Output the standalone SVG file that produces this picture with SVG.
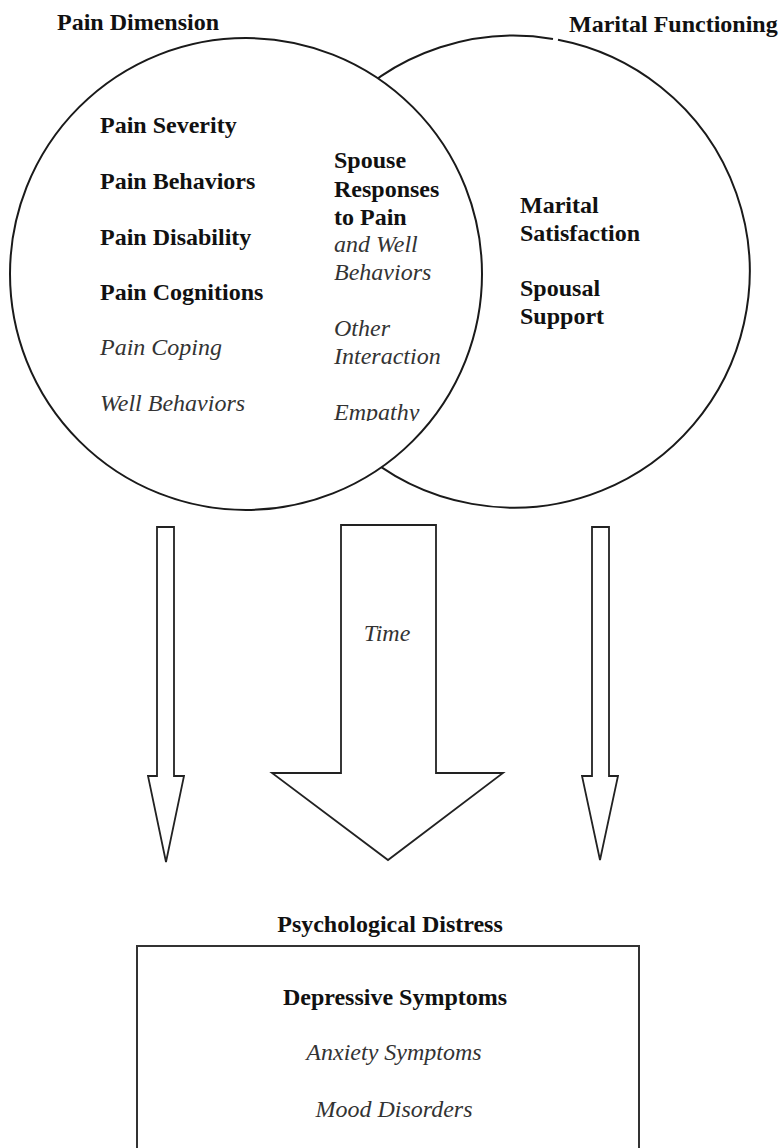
<svg xmlns="http://www.w3.org/2000/svg" width="783" height="1148" viewBox="0 0 783 1148">
<style>
.b{font-family:"Liberation Serif","Times New Roman",serif;font-size:24px;font-weight:bold;fill:#111}
.i{font-family:"Liberation Serif","Times New Roman",serif;font-size:24px;font-style:italic;fill:#333}
.c{text-anchor:middle}
.shape{fill:#fff;stroke:#1a1a1a;stroke-width:2}
.arrow{fill:#fff;stroke:#222;stroke-width:1.8;stroke-linejoin:miter}
</style>
<defs>
<clipPath id="empclip"><rect x="320" y="380" width="140" height="41"/></clipPath>
</defs>
<rect width="783" height="1148" fill="#fff"/>

<g id="marital-functioning">
<path class="shape" d="M558,39.8 A236,236 0 1,1 553,38.9"/>
<text class="b" x="569" y="32">Marital Functioning</text>
<text class="b" x="520" y="213">Marital</text>
<text class="b" x="520" y="241">Satisfaction</text>
<text class="b" x="520" y="296">Spousal</text>
<text class="b" x="520" y="324">Support</text>
</g>

<g id="pain-dimension">
<circle class="shape" cx="246" cy="274" r="236"/>
<text class="b" x="57" y="30">Pain Dimension</text>
<text class="b" x="100" y="133">Pain Severity</text>
<text class="b" x="100" y="189">Pain Behaviors</text>
<text class="b" x="100" y="245">Pain Disability</text>
<text class="b" x="100" y="300">Pain Cognitions</text>
<text class="i" x="100" y="355">Pain Coping</text>
<text class="i" x="100" y="411">Well Behaviors</text>
<text class="b" x="334" y="168">Spouse</text>
<text class="b" x="334" y="197">Responses</text>
<text class="b" x="334" y="225">to Pain</text>
<text class="i" x="334" y="252">and Well</text>
<text class="i" x="334" y="280">Behaviors</text>
<text class="i" x="334" y="336">Other</text>
<text class="i" x="334" y="364">Interaction</text>
<text class="i" x="334" y="420" clip-path="url(#empclip)">Empathy</text>
</g>

<g id="connectors">
<path class="arrow" d="M157,527 H174 V776 H184 L166,862 L148,776 H157 Z"/>
<path class="arrow" d="M341,525 H436 V773 H503 L388,860 L272,773 H341 Z"/>
<path class="arrow" d="M592,527 H609 V776 H618 L600,860 L582,776 H592 Z"/>
<text class="i c" x="387" y="641">Time</text>
</g>

<g id="psychological-distress">
<text class="b c" x="390" y="932">Psychological Distress</text>
<rect x="137" y="946" width="502" height="210" fill="none" stroke="#333" stroke-width="2"/>
<text class="b c" x="395" y="1005">Depressive Symptoms</text>
<text class="i c" x="394" y="1060">Anxiety Symptoms</text>
<text class="i c" x="394" y="1117">Mood Disorders</text>
</g>
</svg>
